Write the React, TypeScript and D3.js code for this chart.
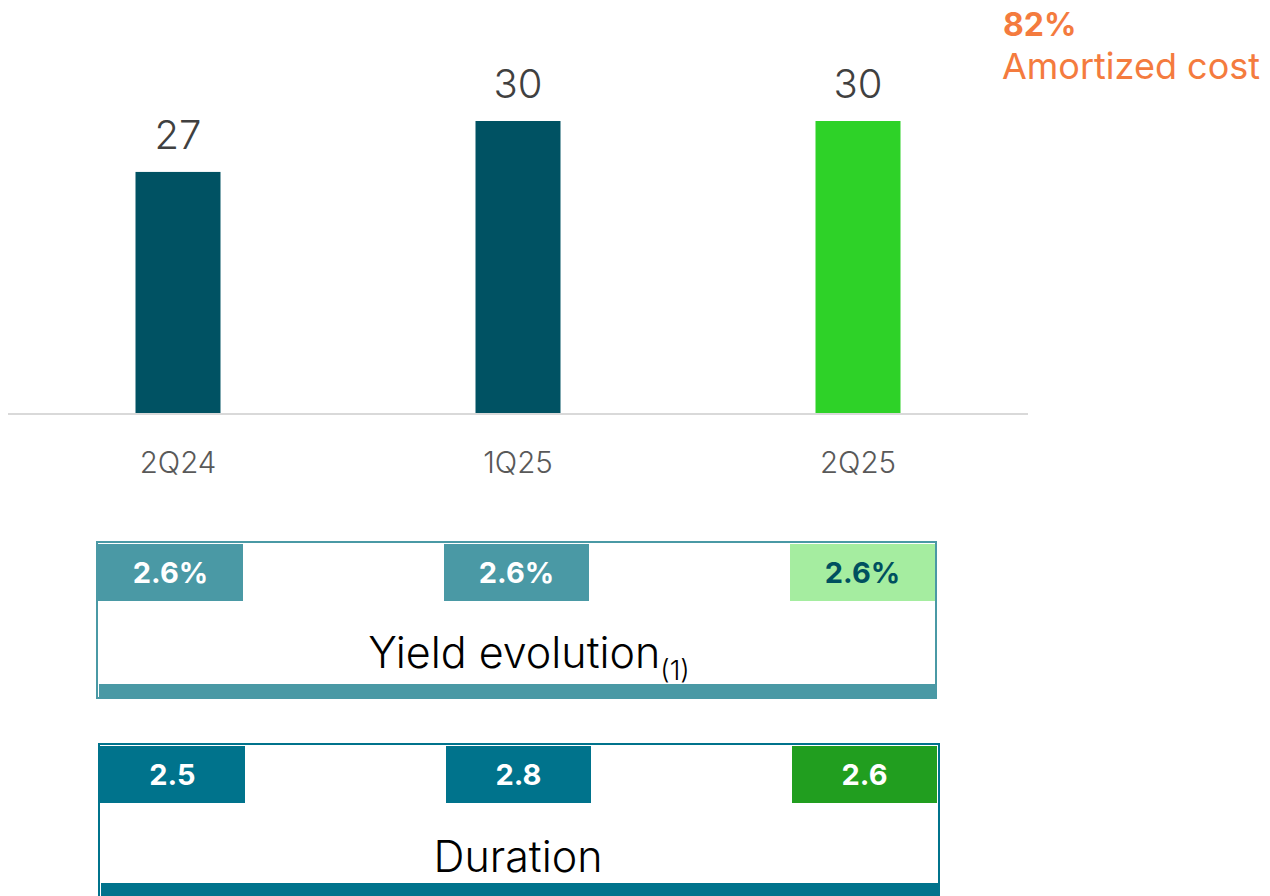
import React from 'react';
import * as d3 from 'd3';

const categories = ['2Q24', '1Q25', '2Q25'];
const portfolio = [27, 30, 30];
const yieldLabels = ['2.6%', '2.6%', '2.6%'];
const durationLabels = ['2.5', '2.8', '2.6'];
const amortizedShare = '82%';
const amortizedLabel = 'Amortized cost';

const FONT = 'Inter, "Noto Sans", sans-serif';

const App: React.FC = () => {
  const width = 1270;
  const height = 896;

  // bar chart
  const x = d3
    .scaleBand()
    .domain(categories)
    .range([8, 1028])
    .paddingInner(0.75)
    .paddingOuter(0.375);
  const baseY = 413;
  const y = d3.scaleLinear().domain([12.8, 30]).range([baseY, 121]);

  // rows below the chart share a band scale of their own
  const rowX = d3
    .scaleBand()
    .domain(categories)
    .range([98, 935])
    .paddingInner(1 - 145 / 346)
    .paddingOuter(0);

  const barColor = (i: number) => (i === categories.length - 1 ? '#2ED228' : '#005263');

  const row = (
    labels: string[],
    top: number,
    left: number,
    right: number,
    bottom: number,
    main: string,
    last: string,
    lastText: string,
    title: React.ReactNode,
    titleX: number,
    titleY: number,
    shift: number
  ) => (
    <g>
      <rect x={left} y={top} width={right - left} height={bottom - top} fill="#fff" stroke={main} strokeWidth={2} />
      {labels.map((t, i) => {
        const bx = rowX(categories[i])! + shift;
        const isLast = i === labels.length - 1;
        return (
          <g key={i}>
            <rect x={bx} y={top + 2} width={rowX.bandwidth()} height={57} fill={isLast ? last : main} />
            <text
              x={bx + rowX.bandwidth() / 2}
              y={top + 41}
              textAnchor="middle"
              fontFamily={FONT}
              fontWeight={700}
              fontSize={29}
              fill={isLast ? lastText : '#fff'}
            >
              {t}
            </text>
          </g>
        );
      })}
      <rect x={left + 2} y={bottom - 14} width={right - left - 2} height={15} fill={main} />
      <text x={titleX} y={titleY} textAnchor="middle" fontFamily={FONT} fontSize={43} fontWeight={300} fill="#000">
        {title}
      </text>
    </g>
  );

  return (
    <svg
      width={width}
      height={height}
      style={{ position: 'absolute', left: 0, top: 0, background: '#fff' }}
    >
      {/* bars */}
      {portfolio.map((v, i) => (
        <g key={categories[i]}>
          <rect
            x={x(categories[i])!}
            y={y(v)}
            width={x.bandwidth()}
            height={baseY - y(v)}
            fill={barColor(i)}
          />
          <text
            x={x(categories[i])! + x.bandwidth() / 2}
            y={y(v) - 23}
            textAnchor="middle"
            fontFamily={FONT}
            fontSize={40}
            fontWeight={300}
            fill="#404040"
          >
            {v}
          </text>
          <text
            x={x(categories[i])! + x.bandwidth() / 2}
            y={473}
            textAnchor="middle"
            fontFamily={FONT}
            fontSize={29.5}
            fontWeight={300}
            fill="#595959"
          >
            {categories[i]}
          </text>
        </g>
      ))}
      <line x1={8} x2={1028} y1={baseY + 1} y2={baseY + 1} stroke="#d9d9d9" strokeWidth={2} />

      {/* amortized cost note */}
      <text x={1003} y={36} fontFamily={FONT} fontWeight={700} fontSize={32} fill="#F47B3E">
        {amortizedShare}
      </text>
      <text x={1002} y={79} fontFamily={FONT} fontSize={36} fill="#F47B3E">
        {amortizedLabel}
      </text>

      {row(
        yieldLabels,
        542,
        97,
        936,
        698,
        '#4A99A5',
        '#A5EDA0',
        '#00505F',
        <>
          Yield evolution
          <tspan fontSize={27} dy={12}>(1)</tspan>
        </>,
        529,
        668,
        0
      )}
      {row(
        durationLabels,
        744,
        99,
        939,
        897,
        '#00738C',
        '#219E1F',
        '#fff',
        'Duration',
        518,
        872,
        2
      )}
    </svg>
  );
};

export default App;
